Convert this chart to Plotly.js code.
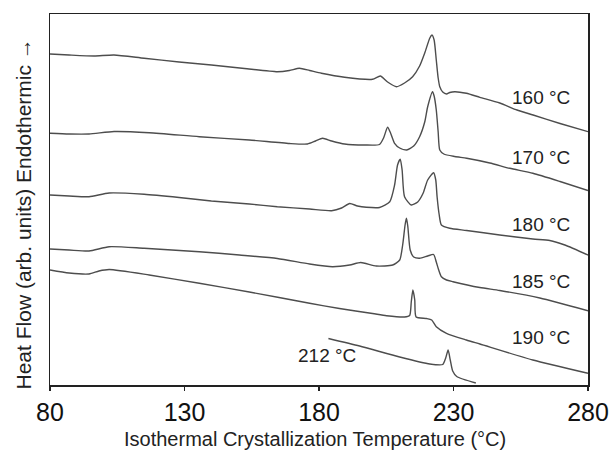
<!DOCTYPE html>
<html><head><meta charset="utf-8">
<script src="https://cdn.plot.ly/plotly-3.0.1.min.js"></script>
<style>html,body{margin:0;padding:0;background:#fff}#chart{width:615px;height:450px}</style>
</head><body><div id="chart"></div>
<script>
// Isothermal crystallization temperature (°C) and heat flow (arb. units) per curve
const t160 = [80,87.1,96.4,103.8,115.0,128.0,140.0,152.3,164.5,169.0,172.7,176.5,180.9,189.5,199.9,202.8,205.5,208.8,211.8,214.8,217.4,219.3,221.2,222.0,222.8,223.6,224.3,224.9,226.0,227.4,228.6,230.5,234.8,239.8,247.2,253.6,259.6,269.6,280];
const h160 = [331,330,329,330,326.7,323,320,316.5,313.3,314.5,316.7,314.5,311.7,307.7,305.7,309,303,298.3,302,308.3,319,332,347,350,345,325,307,298.3,293,291,292.5,293.3,291.7,287.7,282,275,270,261.5,253.3];

const t170 = [80,87.1,94.5,103.8,116.9,135.5,154.1,169.0,175.7,178.7,181.3,184.7,189.5,196.9,202.5,204.0,205.5,206.6,208.1,210.0,212.6,215.2,217.4,219.3,220.4,222.2,222.8,223.6,224.3,224.9,226.4,230.5,234.9,243.5,250.9,259.5,269.6,280];
const h170 = [251.7,251,251,253.5,252.3,248.3,245,241.5,241,244,246.7,244,241,240,240.5,247,257.7,252,241.7,237,235,239,248.3,263,278.3,293.3,289,275,253,235,231,228.5,226.7,222,216.7,211.7,203.5,194.5];

const t180 = [80,87.1,94.5,102.0,115.0,128.0,140.0,154.1,164.5,176.5,184.7,188.4,191.4,194.3,197.6,202.5,206.3,208.1,209.2,210.2,210.9,211.8,214.3,216.7,218.7,220.4,222.6,223.4,223.9,224.7,225.5,228.6,234.9,247.2,259.5,265.8,271.4,280];
const h180 = [190,189,188.3,192,190.7,187.5,184,181,178.3,176,174.3,177,181.5,179,177.7,177.5,183.3,200,220,225.7,215,188.3,180,183,191.7,205,212.3,205,188.3,170,160,156.7,154.5,150,146,144.5,140,130];

const t185 = [80,87.1,94.5,102.0,115.0,135.5,150.4,164.5,176.5,185.0,191.4,195.5,201.3,207.4,210.0,211.1,212.0,212.5,213.0,213.9,215.2,217.4,220.4,222.6,223.6,224.5,225.5,227.4,229.8,239.8,247.2,262.1,280];
const h185 = [136,135,134,138.3,136.7,133.3,130,126.5,121,118.3,120,122.5,119,120,125,140,160,166.7,159,135,128,126.7,129,130.5,123,115,108.3,105,103.3,97.5,94.5,87,74.3];

const t190 = [80,87.1,94.5,98.2,102.0,116.9,135.5,154.1,176.5,187.6,199.9,205.1,211.8,213.7,214.3,214.9,215.6,216.1,219.9,221.9,223.6,227.4,234.8,239.8,259.5,280];
const h190 = [115,112,111,114,115.5,110,101.7,93,81.7,76.5,71.5,69.3,68,69.5,83,95,85,68,66.5,65,58.3,51.7,45,41,25,11.7];

const t212 = [183.5,195.1,210.0,221.2,226.0,227.1,228.0,228.8,229.7,231.2,238.3];
const h212 = [46.5,39,28,21,20.5,27,35,25,14,8.5,2];

const seriesNames = ['160 °C','170 °C','180 °C','185 °C','190 °C','212 °C'];
const labelT = [262.5,262.5,262.5,262.5,262.5,182.8];
const labelH = [287.5,227.5,161,104,47.5,30];
const xTicks = [80,130,180,230,280];

const xs = [t160,t170,t180,t185,t190,t212];
const ys = [h160,h170,h180,h185,h190,h212];

const traces = xs.map((x,i)=>({
  x: x, y: ys[i], name: seriesNames[i], mode: 'lines', type: 'scatter',
  line: {color: '#4d4d4d', width: 1.4, shape: 'spline', smoothing: 0.6},
  hoverinfo: 'skip'
}));

const FONT = 'Arial, Liberation Sans, sans-serif';
const annotations = seriesNames.map((s,i)=>({
  x: labelT[i], y: labelH[i], xref: 'x', yref: 'y', text: s, showarrow: false,
  font: {family: FONT, size: 19, color: '#222'},
  xanchor: 'center', yanchor: 'middle'
}));
annotations.push({
  xref: 'paper', yref: 'paper', x: -0.0502, y: 0.4623,
  text: 'Heat Flow (arb. units) Endothermic →', textangle: -90, showarrow: false,
  font: {family: FONT, size: 21, color: '#222'}, xanchor: 'center', yanchor: 'middle'
});
annotations.push({
  xref: 'paper', yref: 'paper', x: 0.493, y: -0.145,
  text: 'Isothermal Crystallization Temperature (°C)', showarrow: false,
  font: {family: FONT, size: 20, color: '#222'}, xanchor: 'center', yanchor: 'middle'
});

const layout = {
  width: 615, height: 450,
  margin: {l: 50, r: 27, t: 14, b: 65},
  paper_bgcolor: '#fff', plot_bgcolor: '#fff',
  showlegend: false,
  font: {family: FONT, color: '#111'},
  xaxis: {
    range: [80, 280], tickvals: xTicks, ticktext: xTicks.map(String),
    ticks: 'outside', ticklen: 4, tickwidth: 1.5, tickcolor: '#222',
    showline: true, linecolor: '#222', linewidth: 1.5, mirror: true,
    showgrid: false, zeroline: false,
    tickfont: {size: 25, color: '#111'}
  },
  yaxis: {
    range: [0, 371], showticklabels: false, ticks: '',
    showline: true, linecolor: '#222', linewidth: 1.5, mirror: true,
    showgrid: false, zeroline: false
  },
  annotations: annotations
};

Plotly.newPlot('chart', traces, layout, {displayModeBar: false, staticPlot: true});
</script></body></html>
